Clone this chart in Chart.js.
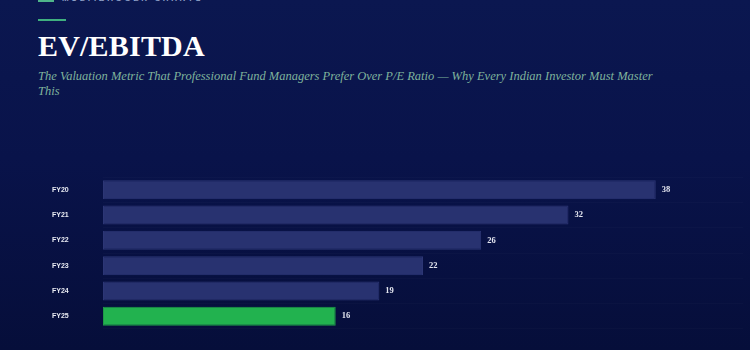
<!DOCTYPE html>
<html>
<head>
<meta charset="utf-8">
<script src="https://cdn.jsdelivr.net/npm/chart.js@4"></script>
<style>
  html, body { margin:0; padding:0; }
  body { width:750px; height:350px; overflow:hidden; position:relative;
         background: linear-gradient(180deg, #0b1750 0%, #09134a 45%, #060e3a 100%); }
  .brand { position:absolute; left:62px; top:-6px; font:bold 8px "Liberation Sans", sans-serif;
           letter-spacing:2.6px; color:#8fa0c8; white-space:nowrap; }
  .brandbar { position:absolute; left:38px; top:-1px; width:16px; height:3px; background:#4fb58a; }
  .accent { position:absolute; left:38px; top:19px; width:28px; height:2px; background:#3fb07f; }
  h1 { position:absolute; left:38px; top:29px; margin:0; font:bold 30px "Liberation Serif", serif;
       color:#ffffff; letter-spacing:0.2px; }
  .sub { position:absolute; left:38px; top:69px; width:625px; margin:0;
         font:italic 12.5px "Liberation Serif", serif; line-height:15px; color:#7fb39c; }
  .wrap { position:absolute; left:52px; top:173px; width:691px; height:160px; }
</style>
</head>
<body>
<div class="brandbar"></div>
<div class="brand">MULTIBAGGER CHARTS</div>
<div class="accent"></div>
<h1>EV/EBITDA</h1>
<p class="sub">The Valuation Metric That Professional Fund Managers Prefer Over P/E Ratio — Why Every Indian Investor Must Master This</p>
<div class="wrap"><canvas id="c"></canvas></div>
<script>
const categories = ["FY20", "FY21", "FY22", "FY23", "FY24", "FY25"];
const evEbitda = [38, 32, 26, 22, 19, 16];
const highlight = "FY25";

const barColors = categories.map(c => c === highlight ? "#22b24f" : "#283270");
const borderColors = categories.map(c => c === highlight ? "#1e9a45" : "#2c3675");

const valueLabels = {
  id: "valueLabels",
  afterDatasetsDraw(chart) {
    const ctx = chart.ctx;
    const meta = chart.getDatasetMeta(0);
    ctx.save();
    ctx.font = "bold 8.5px 'Liberation Serif', serif";
    ctx.fillStyle = "#e4e6f0";
    ctx.textBaseline = "middle";
    ctx.textAlign = "left";
    meta.data.forEach((bar, i) => {
      ctx.fillText(String(evEbitda[i]), bar.x + 6, bar.y);
    });
    ctx.restore();
  }
};

new Chart(document.getElementById("c"), {
  type: "bar",
  data: {
    labels: categories,
    datasets: [{
      data: evEbitda,
      backgroundColor: barColors,
      borderColor: borderColors,
      borderWidth: 1,
      borderSkipped: false,
      categoryPercentage: 0.8,
      barPercentage: 0.94
    }]
  },
  options: {
    indexAxis: "y",
    responsive: true,
    maintainAspectRatio: false,
    animation: false,
    layout: { padding: 0 },
    plugins: { legend: { display: false }, tooltip: { enabled: false } },
    scales: {
      x: {
        display: false,
        min: 0,
        max: 44
      },
      y: {
        afterFit(scale) { scale.width = 51; },
        border: { display: false },
        grid: { display: true, offset: true, color: "rgba(255,255,255,0.02)", drawTicks: false },
        ticks: {
          crossAlign: "far",
          padding: 0,
          color: "#e8eaf2",
          font: { family: "'Liberation Sans', Arial, sans-serif", size: 7, weight: "bold" }
        }
      }
    }
  },
  plugins: [valueLabels]
});
</script>
</body>
</html>
